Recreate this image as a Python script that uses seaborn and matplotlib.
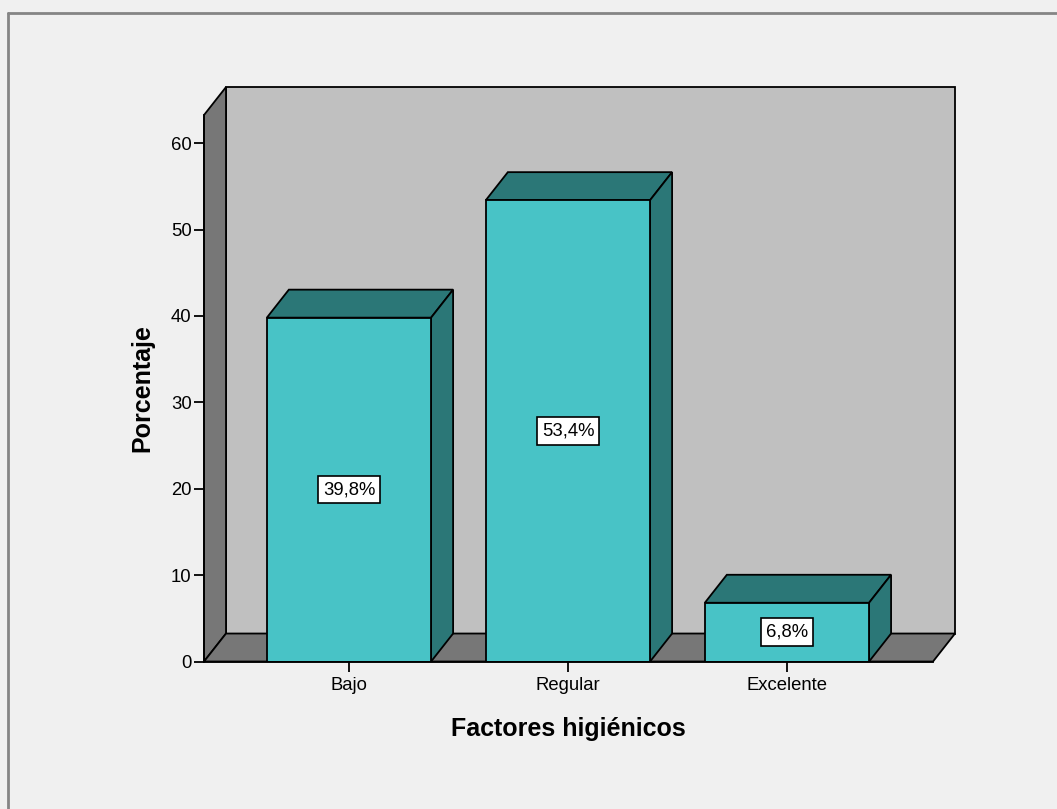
import matplotlib
matplotlib.use("Agg")
import matplotlib.pyplot as plt
from matplotlib.patches import Polygon
from matplotlib.lines import Line2D
import seaborn as sns
import pandas as pd

# Data
categorias = ["Bajo", "Regular", "Excelente"]
porcentajes = [39.8, 53.4, 6.8]
yticks = [0, 10, 20, 30, 40, 50, 60]

sns.set_theme(style="white")
plt.rcParams["font.family"] = ["Liberation Sans", "DejaVu Sans"]

BG = "#f0f0f0"
WALL_BACK = "#c0c0c0"
WALL_SIDE = "#777777"
BAR_FRONT = "#48c3c6"
BAR_SHADE = "#2b7777"

fig = plt.figure(figsize=(10.57, 8.09), dpi=100)
fig.patch.set_facecolor(BG)
ax = fig.add_axes([0.1930, 0.1823, 0.6897, 0.6755])
ax.patch.set_visible(False)

df = pd.DataFrame({"Factores higiénicos": categorias, "Porcentaje": porcentajes})
sns.barplot(data=df, x="Factores higiénicos", y="Porcentaje", color=BAR_FRONT,
            saturation=1, width=0.75, edgecolor="black", linewidth=1.3, ax=ax)

XMIN, XMAX = -0.662, 2.667
YMAX = 63.25
ax.set_xlim(XMIN, XMAX)
ax.set_ylim(0, YMAX)

# depth offset of the 3D effect, in data units
DX, DY = 0.1005, 3.24

edge = dict(edgecolor="black", linewidth=1.3, clip_on=False, joinstyle="miter")

# back wall, left wall and floor
ax.add_patch(Polygon([(XMIN + DX, DY), (XMAX + DX, DY), (XMAX + DX, YMAX + DY),
                      (XMIN + DX, YMAX + DY)], facecolor=WALL_BACK, zorder=0.2, **edge))
ax.add_patch(Polygon([(XMIN, 0), (XMIN, YMAX), (XMIN + DX, YMAX + DY), (XMIN + DX, DY)],
                     facecolor=WALL_SIDE, zorder=0.3, **edge))
ax.add_patch(Polygon([(XMIN, 0), (XMAX, 0), (XMAX + DX, DY), (XMIN + DX, DY)],
                     facecolor=WALL_SIDE, zorder=0.3, **edge))

# top and side faces of each bar, plus value labels
bars = list(ax.patches)[:len(porcentajes)]
for bar in bars:
    bar.set_zorder(2)
    x0 = bar.get_x()
    x1 = x0 + bar.get_width()
    h = bar.get_height()
    ax.add_patch(Polygon([(x0, h), (x1, h), (x1 + DX, h + DY), (x0 + DX, h + DY)],
                         facecolor=BAR_SHADE, zorder=1.5, **edge))
    ax.add_patch(Polygon([(x1, 0), (x1, h), (x1 + DX, h + DY), (x1 + DX, DY)],
                         facecolor=BAR_SHADE, zorder=1.5, **edge))
    etiqueta = f"{h:.1f}%".replace(".", ",")
    ax.text(x0 + bar.get_width() / 2, h / 2, etiqueta, ha="center", va="center",
            fontsize=13.3, color="black", zorder=3,
            bbox=dict(boxstyle="square,pad=0.28", facecolor="white",
                      edgecolor="black", linewidth=1.2))

ax.set_yticks(yticks)
ax.set_yticklabels([str(t) for t in yticks])
for side in ["top", "right"]:
    ax.spines[side].set_visible(False)
for side in ["left", "bottom"]:
    ax.spines[side].set_color("black")
    ax.spines[side].set_linewidth(1.3)
    ax.spines[side].set_zorder(2.5)
ax.tick_params(axis="both", which="major", direction="out", length=7.5, width=1.3,
               color="black", labelsize=13.3, labelcolor="black", pad=1.5,
               left=True, bottom=True)
ax.tick_params(axis="x", pad=4)

ax.set_xlabel("Factores higiénicos", fontsize=18, fontweight="bold", labelpad=16,
              color="black")
ax.set_ylabel("Porcentaje", fontsize=18, fontweight="bold", labelpad=12, color="black")

# outer frame (left and top edges)
fig.add_artist(Line2D([8 / 1057, 8 / 1057], [0, 1 - 13 / 809],
                      transform=fig.transFigure, color="#858585", linewidth=2))
fig.add_artist(Line2D([8 / 1057, 1], [1 - 13 / 809, 1 - 13 / 809],
                      transform=fig.transFigure, color="#858585", linewidth=2))

fig.savefig("out.png", dpi=100, facecolor=BG)
